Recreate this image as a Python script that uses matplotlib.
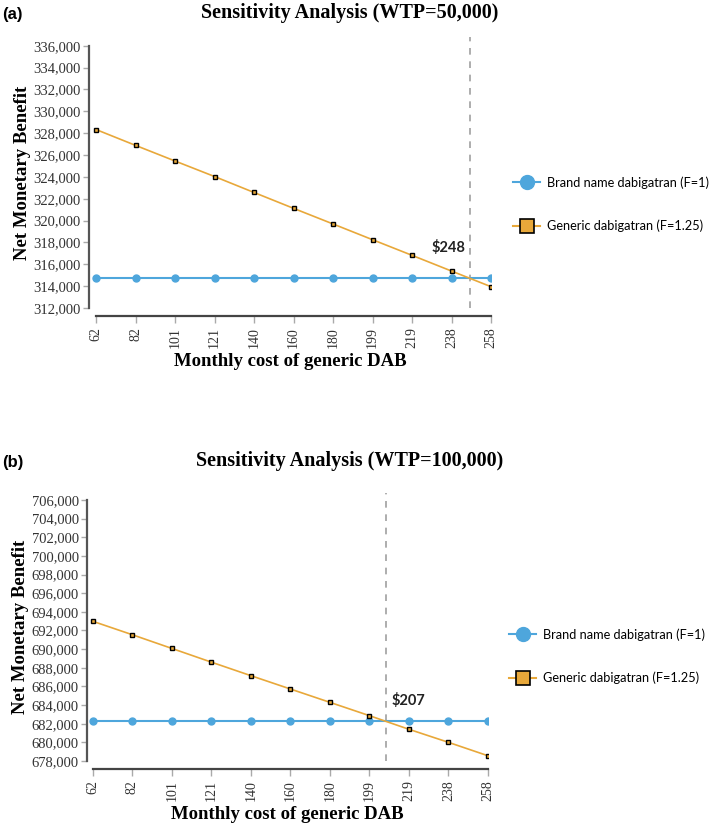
import matplotlib.pyplot as plt
from matplotlib.lines import Line2D
import numpy as np

costs = ["62", "82", "101", "121", "140", "160", "180", "199", "219", "238", "258"]

brand_a = [314700] * 11
generic_a = [328330, 326880, 325450, 324030, 322570, 321120, 319690,
             318250, 316820, 315380, 313950]

brand_b = [682250] * 11
generic_b = [692980, 691540, 690070, 688600, 687150, 685720, 684290,
             682860, 681400, 680000, 678560]

threshold_labels = ["$248", "$207"]
titles = ["Sensitivity Analysis (WTP=50,000)", "Sensitivity Analysis (WTP=100,000)"]
panel_tags = ["(a)", "(b)"]

BLUE = "#4ea6dc"
ORANGE = "#e8a83a"
SERIF = "Liberation Serif"
SANS = "Lato"

plt.rcParams["font.family"] = [SERIF, "DejaVu Serif"]


def crossing(brand, generic):
    for i in range(len(generic) - 1):
        if generic[i] >= brand[i] and generic[i + 1] < brand[i + 1]:
            return i + (generic[i] - brand[i]) / (generic[i] - generic[i + 1])
    return None


def draw_panel(fig, rect, brand, generic, yticks, ylim, xmin, label, label_off,
               legend_pos):
    ax = fig.add_axes(rect)
    x = np.arange(len(costs))
    ax.plot(x, brand, color=BLUE, lw=1.5, marker="o", ms=5, mec=BLUE, zorder=3)
    ax.plot(x, generic, color=ORANGE, lw=1.2, marker="s", ms=3.5,
            mfc=ORANGE, mec="black", mew=1.0, zorder=4)

    cx = crossing(brand, generic)
    ax.axvline(cx, color="#a0a0a0", lw=1.2, ls=(0, (4, 4)), zorder=2)
    ax.annotate(label, (cx, brand[0]), xytext=label_off, textcoords="offset points",
                ha="center", va="center", fontsize=10.5, fontweight="bold",
                family=SANS, color="#222222")

    ax.set_xlim(xmin, 10)
    ax.set_ylim(*ylim)
    ax.set_xticks(x)
    ax.set_xticklabels(costs)
    ax.set_yticks(yticks)
    ax.set_yticklabels([f"{v:,}" for v in yticks])
    ax.tick_params(axis="y", length=4, width=1, color="#aaaaaa", pad=2,
                   labelsize=10.5, labelcolor="#333333")
    ax.tick_params(axis="x", length=5, width=1, color="#aaaaaa", pad=3,
                   labelsize=10, labelcolor="#333333", labelrotation=90)

    for side in ("top", "right"):
        ax.spines[side].set_visible(False)
    ax.spines["left"].set_bounds(yticks[0], yticks[-1])
    ax.spines["left"].set_color("#555555")
    ax.spines["left"].set_linewidth(1.6)
    ax.spines["bottom"].set_bounds(0, 10)
    ax.spines["bottom"].set_position(("outward", 6))
    ax.spines["bottom"].set_color("#444444")
    ax.spines["bottom"].set_linewidth(1.6)

    ax.set_xlabel("Monthly cost of generic DAB", fontsize=13.5,
                  fontweight="bold", labelpad=3)
    ax.set_ylabel("Net Monetary Benefit", fontsize=13.5,
                  fontweight="bold", labelpad=2)

    handles = [
        Line2D([], [], color=BLUE, lw=1.5, marker="o", ms=10, mec=BLUE),
        Line2D([], [], color=ORANGE, lw=1.5, marker="s", ms=10, mfc=ORANGE,
               mec="black", mew=1.2),
    ]
    ax.legend(handles, ["Brand name dabigatran (F=1)", "Generic dabigatran (F=1.25)"],
              loc="upper left", bbox_to_anchor=legend_pos,
              bbox_transform=fig.transFigure, frameon=False, borderpad=0,
              handlelength=2.1, handletextpad=0.55, labelspacing=2.4,
              prop={"family": SANS, "size": 9.2})
    return ax


fig = plt.figure(figsize=(7.09, 8.24), dpi=100)

draw_panel(fig, [89 / 709, 516 / 824, 402 / 709, 271 / 824],
           brand_a, generic_a, list(range(312000, 336001, 2000)),
           (312000, 336800), -0.18, threshold_labels[0], (-16, 22),
           (507 / 709, 1 - 170 / 824))
draw_panel(fig, [87 / 709, 63 / 824, 401 / 709, 268.5 / 824],
           brand_b, generic_b, list(range(678000, 706001, 2000)),
           (678000, 706800), -0.15, threshold_labels[1], (16, 15),
           (503 / 709, 1 - 622 / 824))

fig.text(350 / 709, 1 - 13 / 824, titles[0], ha="center", va="center",
         fontsize=14.5, fontweight="bold")
fig.text(350 / 709, 1 - 461 / 824, titles[1], ha="center", va="center",
         fontsize=14.5, fontweight="bold")
fig.text(2 / 709, 1 - 15 / 824, panel_tags[0], ha="left", va="center",
         family="Liberation Sans", fontsize=12, fontweight="bold")
fig.text(2 / 709, 1 - 462 / 824, panel_tags[1], ha="left", va="center",
         family="Liberation Sans", fontsize=12, fontweight="bold")

fig.savefig("out.png", dpi=100, facecolor="white")
